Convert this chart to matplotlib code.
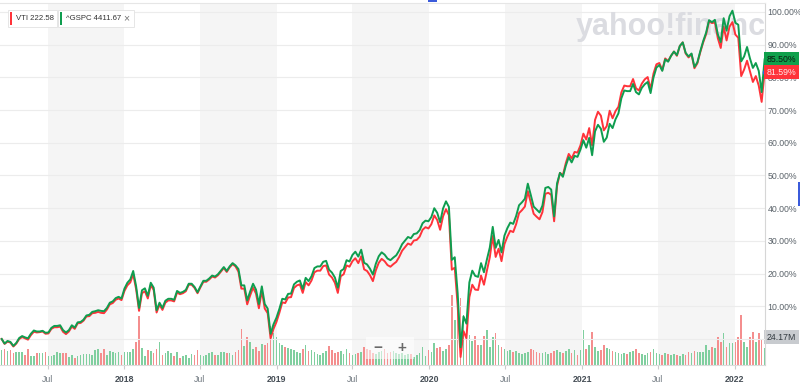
import numpy as np
import pandas as pd
import matplotlib
matplotlib.use('Agg')
import matplotlib.pyplot as plt
from matplotlib.patches import Rectangle

plt.rcParams['font.family'] = ['Liberation Sans', 'DejaVu Sans']

# weekly % change since first week (^GSPC = green, VTI = red)
gspc_2017 = [0.0, -1.4, -0.6, -0.9, -2.1, -1.2, 0.3, 0.9, 0.5, 0.2, 1.6, 2.6, 2.3, 2.3,
             2.5, 1.9, 2.0, 3.4, 4.0, 4.0, 4.2, 2.7, 2.0, 2.7, 4.2, 3.5, 5.1, 5.2, 5.9,
             7.2, 7.4, 8.3, 8.5, 8.8, 8.6, 8.5, 9.5, 11.1, 11.5, 12.5, 12.9, 12.4]
gspc_2018 = [15.4, 17.2, 18.2, 20.8, 16.1, 9.5, 14.9, 15.5, 13.2, 17.2, 15.7, 8.8, 11.1,
             9.5, 11.7, 12.3, 12.3, 12.0, 14.7, 14.1, 14.4, 15.0, 16.9, 16.9, 15.9, 14.3,
             16.1, 17.8, 17.8, 18.5, 19.4, 19.1, 19.8, 20.9, 22.0, 20.8, 22.2, 23.2, 22.5,
             21.4, 16.4, 16.4, 11.8, 14.5, 16.9, 15.1, 10.7, 16.1, 10.7, 9.3, 1.6, 4.5]
gspc_2019 = [6.5, 9.2, 12.3, 12.1, 13.8, 13.9, 16.7, 17.5, 17.9, 15.3, 18.7, 17.7, 19.2,
             21.7, 22.2, 22.2, 23.6, 23.9, 21.2, 20.3, 18.8, 15.7, 20.8, 21.4, 24.1, 23.7,
             25.7, 26.7, 25.2, 27.3, 23.3, 22.8, 21.5, 19.7, 23.0, 25.3, 26.5, 25.8, 24.6,
             24.1, 24.9, 25.6, 27.1, 29.0, 30.1, 31.2, 30.8, 32.1, 32.3, 33.3, 35.4, 36.2]
gspc_2020 = [36.0, 37.3, 40.0, 38.6, 35.7, 39.9, 42.1, 40.4, 24.2, 25.0, 14.0, -2.5, 6.9,
             4.7, 17.3, 20.9, 19.3, 19.0, 23.2, 20.4, 24.3, 28.0, 34.3, 27.9, 30.3, 26.5,
             31.6, 33.9, 35.6, 35.2, 37.6, 40.9, 41.8, 42.9, 47.5, 44.1, 40.5, 39.6, 38.7,
             40.8, 46.2, 46.5, 45.7, 37.5, 47.6, 50.8, 49.6, 53.0, 55.6, 54.0, 56.0, 55.7]
gspc_2021 = [57.9, 60.8, 58.5, 61.5, 56.2, 63.5, 65.5, 64.3, 60.3, 61.6, 65.8, 64.5, 67.2,
             69.0, 73.6, 76.0, 75.8, 75.8, 78.0, 75.5, 74.8, 76.8, 77.9, 78.6, 75.2, 80.0,
             83.0, 83.8, 82.0, 85.5, 84.8, 86.6, 87.9, 86.8, 89.6, 90.7, 87.5, 86.4, 87.3,
             83.2, 84.6, 88.0, 91.1, 93.7, 97.5, 96.9, 97.6, 93.2, 90.8, 98.1, 94.3, 98.7,
             100.4]
gspc_2022 = [96.7, 96.1, 84.9, 86.4, 89.3, 85.8, 82.9, 84.4, 82.0, 75.5, 85.5]

vti_2017 = [0.0, -1.5, -0.8, -1.1, -2.3, -1.4, 0.0, 0.6, 0.2, -0.2, 1.2, 2.2, 2.0, 2.1,
            2.3, 1.6, 1.7, 3.1, 3.6, 3.6, 3.8, 2.2, 1.5, 2.3, 3.8, 3.1, 4.8, 4.9, 5.6,
            6.9, 7.0, 7.9, 8.0, 8.3, 8.0, 7.9, 9.0, 10.6, 11.0, 12.0, 12.4, 11.9]
vti_2018 = [14.7, 16.4, 17.3, 19.8, 15.2, 8.6, 14.0, 14.6, 12.4, 16.5, 15.0, 8.1, 10.5,
            8.9, 11.1, 11.8, 11.8, 11.5, 14.2, 13.7, 14.0, 14.6, 16.6, 16.6, 15.6, 14.0,
            15.8, 17.5, 17.5, 18.2, 19.1, 18.8, 19.5, 20.6, 21.7, 20.5, 21.9, 22.9, 22.2,
            20.6, 15.4, 15.4, 10.6, 13.3, 15.7, 13.9, 9.4, 14.8, 9.3, 7.9, 0.2, 3.1]
vti_2019 = [5.2, 8.0, 11.2, 11.0, 12.7, 12.8, 15.6, 16.4, 16.7, 14.1, 17.4, 16.4, 17.9,
            20.4, 20.9, 20.9, 22.3, 22.5, 19.7, 18.8, 17.2, 14.1, 19.2, 19.8, 22.5, 22.1,
            23.8, 24.7, 23.2, 25.3, 21.3, 20.8, 19.5, 17.7, 21.0, 23.3, 24.5, 23.8, 22.6,
            22.1, 22.9, 23.6, 25.1, 27.0, 28.1, 29.2, 28.8, 30.1, 30.3, 31.3, 33.4, 34.2]
vti_2020 = [33.8, 35.1, 37.8, 36.4, 33.4, 37.5, 39.7, 37.9, 21.2, 21.8, 10.2, -5.5, 2.4,
            0.2, 12.8, 16.6, 15.1, 15.0, 19.4, 16.6, 20.9, 25.0, 31.5, 25.1, 27.6, 23.8,
            29.0, 31.3, 33.1, 32.7, 35.1, 38.5, 39.4, 40.5, 45.2, 41.8, 38.3, 37.4, 36.6,
            38.8, 44.4, 44.7, 44.1, 36.0, 46.8, 50.8, 50.1, 53.8, 56.6, 55.2, 57.2, 57.0]
vti_2021 = [59.2, 62.8, 61.0, 64.5, 59.2, 67.0, 69.5, 68.3, 63.8, 65.1, 69.8, 67.5, 69.7,
            71.0, 75.4, 77.5, 77.3, 77.3, 79.5, 76.7, 76.0, 78.1, 79.4, 80.1, 76.4, 81.2,
            84.0, 84.4, 82.2, 85.8, 85.0, 86.6, 87.9, 86.6, 89.6, 90.7, 87.3, 86.1, 87.1,
            82.8, 84.3, 87.7, 90.7, 93.2, 97.2, 96.6, 96.8, 92.0, 89.0, 95.5, 91.3, 95.5,
            96.9]
vti_2022 = [93.1, 92.1, 80.4, 82.4, 85.1, 81.8, 78.6, 80.4, 77.5, 72.5, 81.59]

# weekly VTI volume, millions
vol_2017 = [21, 23, 20, 21, 17, 18, 18, 18, 14, 23, 13, 13, 17, 17, 17, 18, 13, 13, 14, 18,
            17, 17, 17, 11, 14, 10, 13, 14, 16, 16, 16, 14, 21, 23, 17, 23, 14, 20, 18, 17,
            18, 14]
vol_2018 = [18, 18, 18, 23, 33, 70, 24, 13, 21, 20, 17, 23, 33, 14, 17, 20, 17, 13, 18, 10,
            13, 14, 10, 16, 14, 21, 14, 13, 14, 17, 18, 14, 14, 18, 18, 17, 17, 14, 18, 21,
            51, 27, 40, 33, 23, 26, 20, 30, 28, 31, 55, 45]
vol_2019 = [40, 31, 28, 26, 24, 23, 21, 18, 17, 23, 28, 20, 21, 18, 16, 14, 17, 20, 27, 21,
            17, 18, 20, 16, 23, 17, 14, 16, 17, 18, 26, 23, 21, 17, 16, 18, 20, 23, 17, 18,
            20, 17, 16, 17, 14, 16, 16, 11, 14, 17, 26, 13]
vol_2020 = [21, 18, 31, 24, 26, 20, 23, 28, 99, 64, 109, 95, 71, 46, 43, 34, 41, 28, 28, 41,
            50, 26, 40, 45, 28, 26, 23, 20, 21, 18, 20, 17, 16, 17, 18, 23, 21, 18, 17, 17,
            18, 16, 17, 20, 21, 18, 17, 20, 23, 17, 21, 14]
vol_2021 = [21, 50, 23, 28, 47, 26, 20, 21, 28, 24, 23, 20, 18, 17, 16, 17, 16, 18, 20, 23,
            17, 16, 14, 17, 18, 23, 17, 16, 14, 17, 16, 14, 16, 14, 13, 16, 14, 18, 17, 20,
            18, 18, 18, 28, 21, 26, 24, 40, 33, 45, 26, 31, 31]
vol_2022 = [33, 40, 71, 33, 26, 40, 47, 33, 45, 37, 24.17]

gspc = np.array(gspc_2017 + gspc_2018 + gspc_2019 + gspc_2020 + gspc_2021 + gspc_2022)
vti = np.array(vti_2017 + vti_2018 + vti_2019 + vti_2020 + vti_2021 + vti_2022)
volume = np.array(vol_2017 + vol_2018 + vol_2019 + vol_2020 + vol_2021 + vol_2022)
dates = pd.date_range('2017-03-13', periods=len(gspc), freq='W-MON')

tick_dates = pd.to_datetime(['2017-07-01', '2018-01-01', '2018-07-01', '2019-01-01',
                             '2019-07-01', '2020-01-01', '2020-07-01', '2021-01-01',
                             '2021-07-01', '2022-01-01'])
tick_labels = ['Jul', '2018', 'Jul', '2019', 'Jul', '2020', 'Jul', '2021', 'Jul', '2022']

RED = '#ff333a'
GREEN = '#0f9d4f'

fig = plt.figure(figsize=(8, 3.9), dpi=100)
W, H = 800, 390


def fx(x):
    return x / W


def fy(y):
    return 1 - y / H


pos = [0, fy(365), fx(765), (365 - 3) / H]

# volume axes (behind)
axv = fig.add_axes(pos)
axv.set_xlim(pd.Timestamp('2017-03-09'), pd.Timestamp('2022-03-15'))
axv.set_ylim(0, 362 * 1.42)
for i in range(0, len(tick_dates), 2):
    axv.axvspan(tick_dates[i], tick_dates[i + 1], color='#f5f5f5', lw=0, zorder=0)
up = np.r_[True, np.diff(vti) >= 0]
bar_colors = np.where(up, '#80cf9f', '#f48e8e')
axv.bar(dates, volume, width=3.8, color=bar_colors, zorder=2)
axv.set_yticks([])
axv.set_xticks(tick_dates)
axv.set_xticklabels(tick_labels)
for lab, txt in zip(axv.get_xticklabels(), tick_labels):
    if txt == 'Jul':
        lab.set_color('#707880')
        lab.set_fontweight('normal')
    else:
        lab.set_color('#464e56')
        lab.set_fontweight('bold')
axv.tick_params(axis='x', length=3, color='#cccccc', labelsize=6.3, pad=4)
for s in ['left', 'right', 'top']:
    axv.spines[s].set_visible(False)
axv.spines['bottom'].set_color('#dcdcdc')
axv.spines['bottom'].set_linewidth(0.8)

# price axes (on top)
ax = fig.add_axes(pos, sharex=axv)
ax.patch.set_alpha(0)
ax.set_ylim(-7.95, 102.75)
for v in range(0, 101, 10):
    ax.axhline(v, color='#ececec', lw=0.8, zorder=0)
ax.plot(dates, vti, color=RED, lw=1.4, zorder=3)
ax.plot(dates, gspc, color=GREEN, lw=1.4, zorder=4)
ax.yaxis.tick_right()
ax.set_yticks(range(10, 101, 10))
ax.set_yticklabels(['%.2f%%' % v for v in range(10, 101, 10)])
ax.tick_params(axis='y', length=0, pad=2, labelsize=6.3, labelcolor='#5b636a')
ax.tick_params(axis='x', bottom=False, labelbottom=False)
for s in ['left', 'bottom']:
    ax.spines[s].set_visible(False)
ax.spines['right'].set_color('#d6d6d6')
ax.spines['top'].set_color('#e6e6e6')
ax.spines['right'].set_linewidth(0.8)
ax.spines['top'].set_linewidth(0.8)

# watermark (cut by the plot edge, as on the site)
ax.text(0.752, 0.935, 'yahoo!finance', transform=ax.transAxes, fontsize=22,
        fontweight='bold', color='#dbdce1', va='center', ha='left', zorder=1, clip_on=True)

# end-value tags
ytr = ax.get_yaxis_transform()
ax.text(1.002, gspc[-1], '%.2f%%' % gspc[-1], transform=ytr, fontsize=6.3, color='#0b1a10',
        va='center', ha='left', zorder=10, clip_on=False,
        bbox=dict(boxstyle='square,pad=0.32', fc='#10a04c', ec='none'))
ax.text(1.002, vti[-1], '%.2f%%' % vti[-1], transform=ytr, fontsize=6.3, color='#ffe9e9',
        va='center', ha='left', zorder=10, clip_on=False,
        bbox=dict(boxstyle='square,pad=0.32', fc='#ff333a', ec='none'))
ax.plot(dates[-1], vti[-1], 'o', color='#1f6fe0', ms=3, zorder=6, clip_on=False)
axv.text(1.002, 0.077, '%.2fM' % volume[-1], transform=axv.transAxes, fontsize=6.3,
         color='#333a40', va='center', ha='left', zorder=10, clip_on=False,
         bbox=dict(boxstyle='square,pad=0.32', fc='#c8cbcf', ec='none'))

# legend chips
fig.patches.append(Rectangle((fx(8), fy(27)), fx(49), 17 / H, transform=fig.transFigure,
                             fc='white', ec='#e2e2e2', lw=0.6, zorder=5))
fig.patches.append(Rectangle((fx(10), fy(24.5)), fx(2.2), 12.5 / H, transform=fig.transFigure,
                             fc=RED, ec='none', zorder=6))
fig.text(fx(16), fy(18.3), 'VTI 222.58', fontsize=5.6, color='#333333', va='center',
         zorder=7)
fig.patches.append(Rectangle((fx(58), fy(27)), fx(76), 17 / H, transform=fig.transFigure,
                             fc='white', ec='#e2e2e2', lw=0.6, zorder=5))
fig.patches.append(Rectangle((fx(60), fy(24.5)), fx(2.2), 12.5 / H, transform=fig.transFigure,
                             fc=GREEN, ec='none', zorder=6))
fig.text(fx(66.5), fy(18.3), '^GSPC 4411.67', fontsize=5.6, color='#333333', va='center',
         zorder=7)
fig.text(fx(123), fy(18.3), '\u00d7', fontsize=7.5, color='#777777', va='center', zorder=7)

# zoom buttons
fig.patches.append(Rectangle((fx(366), fy(359)), fx(48), 22 / H, transform=fig.transFigure,
                             fc='white', ec='none', alpha=0.55, zorder=5))
fig.text(fx(378), fy(348), '\u2212', fontsize=11, color='#6a6a6a', ha='center', va='center',
         fontweight='bold', zorder=7)
fig.text(fx(402), fy(348), '+', fontsize=11, color='#6a6a6a', ha='center', va='center',
         fontweight='bold', zorder=7)

# small blue ui marks
fig.patches.append(Rectangle((fx(428), fy(2)), fx(9), 2 / H, transform=fig.transFigure,
                             fc='#3b5bdb', ec='none', zorder=6))
fig.patches.append(Rectangle((fx(798), fy(206)), fx(2), 24 / H, transform=fig.transFigure,
                             fc='#3b5bdb', ec='none', zorder=6))

fig.savefig('out.png', dpi=100)
